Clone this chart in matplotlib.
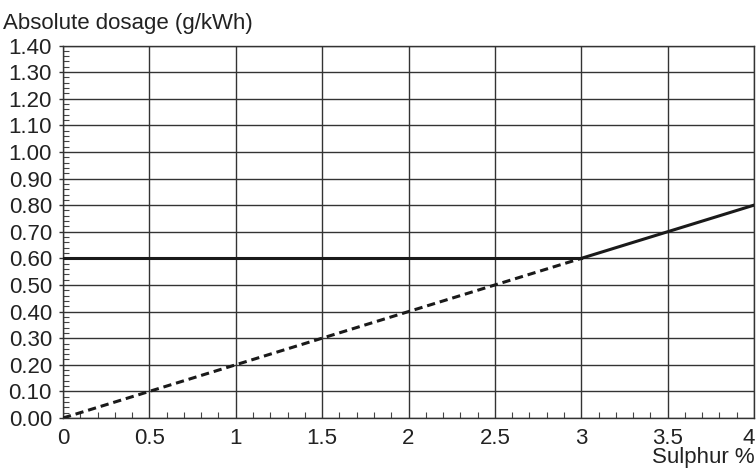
import matplotlib
matplotlib.use("Agg")
import matplotlib.pyplot as plt
import matplotlib.transforms as mtransforms
from matplotlib.ticker import MultipleLocator

plt.rcParams['font.family'] = ['Liberation Sans', 'DejaVu Sans']

# data
flat_x = [0, 3]
flat_y = [0.60, 0.60]
rise_x = [3, 4]
rise_y = [0.60, 0.80]
dash_x = [0, 3]
dash_y = [0.00, 0.60]
x_ticks = [0, 0.5, 1, 1.5, 2, 2.5, 3, 3.5, 4]
x_labels = ['0', '0.5', '1', '1.5', '2', '2.5', '3', '3.5', '4']
y_ticks = [0.0, 0.1, 0.2, 0.3, 0.4, 0.5, 0.6, 0.7, 0.8, 0.9, 1.0, 1.1, 1.2, 1.3, 1.4]
y_labels = ['%.2f' % v for v in y_ticks]

W, H = 756, 468
L, R, T, B = 63, 754, 45.5, 418
fig = plt.figure(figsize=(W/100, H/100), dpi=100)
ax = fig.add_axes([L/W, 1 - B/H, (R-L)/W, (B-T)/H])

ax.set_xlim(0, 4)
ax.set_ylim(0, 1.4)
ax.set_xticks(x_ticks)
ax.set_xticklabels(x_labels)
ax.set_yticks(y_ticks)
ax.set_yticklabels(y_labels)
ax.xaxis.set_minor_locator(MultipleLocator(0.1))
ax.yaxis.set_minor_locator(MultipleLocator(0.02))

ax.grid(True, which='major', color='#333333', linewidth=1.0)
ax.tick_params(axis='y', which='major', direction='out', length=3, width=1.0, color='#333333',
               labelsize=16, labelcolor='#222222', pad=5)
ax.tick_params(axis='x', which='major', direction='out', length=0, width=1.0, color='#333333',
               labelsize=16, labelcolor='#222222', pad=7)
ax.tick_params(which='minor', direction='in', length=4, width=0.8, color='#444444')
for s in ax.spines.values():
    s.set_color('#333333')
    s.set_linewidth(1.0)

# keep last x tick label inside the canvas
last = ax.get_xticklabels()[-1]
last.set_transform(last.get_transform() + mtransforms.ScaledTranslation(-5/100, 0, fig.dpi_scale_trans))

ax.plot(dash_x, dash_y, color='#1a1a1a', linewidth=2.2, linestyle=(0, (2.7, 1.6)), zorder=3)
ax.plot(flat_x, flat_y, color='#1a1a1a', linewidth=2.2, zorder=4)
ax.plot(rise_x, rise_y, color='#1a1a1a', linewidth=2.2, zorder=4)

fig.text(3/W, 1 - 23/H, 'Absolute dosage (g/kWh)', fontsize=16, color='#222222',
         ha='left', va='center')
fig.text(755/W, 1 - 458/H, 'Sulphur %', fontsize=16, color='#222222',
         ha='right', va='center')

fig.savefig('out.png', dpi=100)
